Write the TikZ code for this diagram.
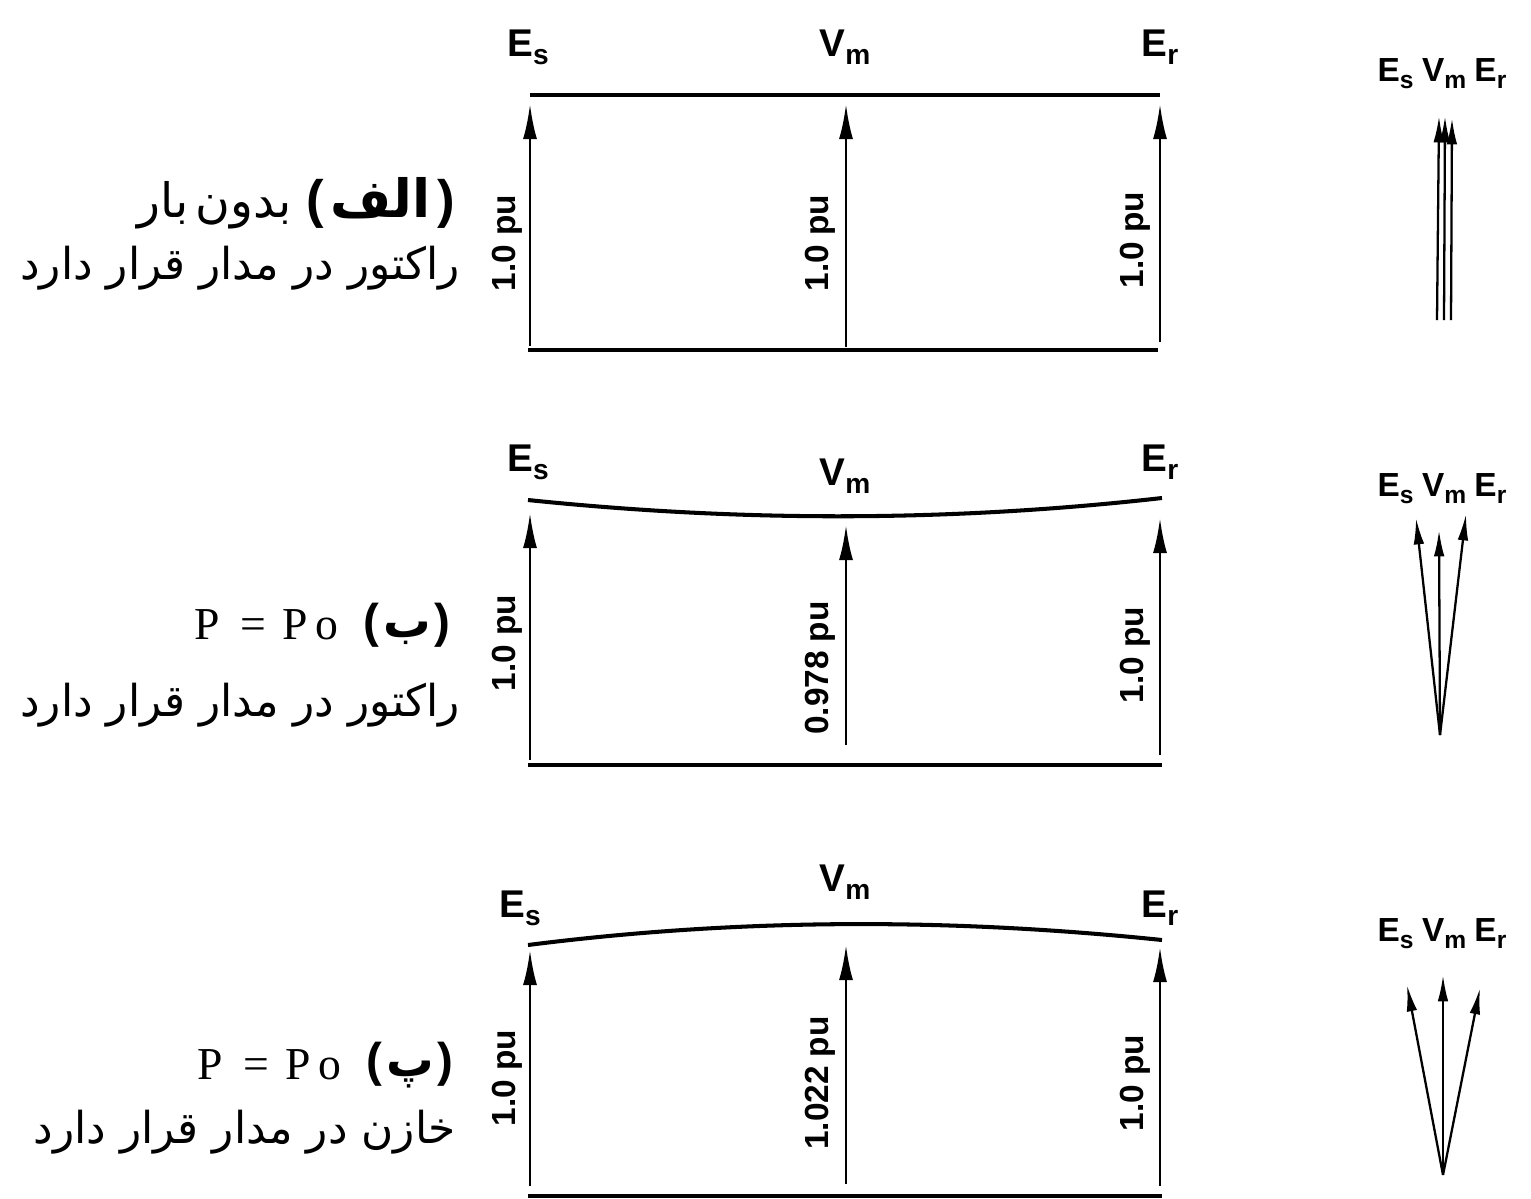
\documentclass[tikz,border=0pt]{standalone}
\usepackage{fontspec}
\setmainfont{Liberation Sans}
\newfontfamily\arabicfont[Script=Arabic]{DejaVu Sans}
\newfontfamily\serifP{Liberation Serif}
\TeXXeTstate=1
\usetikzlibrary{arrows.meta}
\newcommand\subl[2]{#1\raisebox{-0.4ex}{\fontsize{16}{16}\selectfont #2}}
\newcommand\psub[2]{#1\raisebox{-0.4ex}{\fontsize{14}{14}\selectfont #2}}
\begin{document}
\begin{tikzpicture}[x=0.02cm,y=-0.02cm,
  bus/.style={line width=2.3pt},
  vec/.style={line width=1.6pt,-{Latex[length=20pt,width=8pt]}},
  pvec/.style={line width=1.3pt,-{Latex[length=15pt,width=6pt]}},
  vlab/.style={font=\fontsize{22}{22}\selectfont\bfseries,inner sep=0pt},
  plab/.style={font=\fontsize{19}{19}\selectfont\bfseries,inner sep=0pt},
  pu/.style={font=\fontsize{19}{19}\selectfont\bfseries,rotate=90,inner sep=0pt},
  fa/.style={font=\fontsize{25}{25}\selectfont\arabicfont,inner sep=0pt,anchor=east},
  fab/.style={font=\fontsize{27}{27}\selectfont\bfseries,inner sep=0pt,anchor=east},
  eq/.style={font=\fontsize{26}{26}\selectfont\serifP,inner sep=0pt,anchor=east}]
\useasboundingbox (0,0) rectangle (1531,1198);

% ---------------- Panel A ----------------
\coordinate (a-tl) at (530,95);  \coordinate (a-tr) at (1160,95);
\coordinate (a-bl) at (528,350); \coordinate (a-br) at (1158,350);
\draw[bus] (a-tl) -- (a-tr);
\draw[bus] (a-bl) -- (a-br);
\coordinate (a-s0) at (530,346); \coordinate (a-s1) at (530,104);
\coordinate (a-m0) at (846,347); \coordinate (a-m1) at (846,104);
\coordinate (a-r0) at (1160,342);\coordinate (a-r1) at (1160,104);
\draw[vec] (a-s0) -- (a-s1);
\draw[vec] (a-m0) -- (a-m1);
\draw[vec] (a-r0) -- (a-r1);
\node[vlab] (a-Es) at (528,47) {\subl{E}{s}};
\node[vlab] (a-Vm) at (845,47) {\subl{V}{m}};
\node[vlab] (a-Er) at (1160,47) {\subl{E}{r}};
\node[pu] (a-p1) at (507,243) {1.0 pu};
\node[pu] (a-p2) at (820,243) {1.0 pu};
\node[pu] (a-p3) at (1135,240) {1.0 pu};
\node[fab,font=\fontsize{30}{30}\selectfont\bfseries] (a-t1b) at (455,203) {(\hspace{0.12em}{\arabicfont الف}\hspace{0.12em})};
\node[fa,font=\fontsize{27}{27}\selectfont\arabicfont,anchor=base east] (a-t1) at ([xshift=-8pt]a-t1b.base west) {\beginR بدون\hspace{0.15em}بار\endR};
\node[fa] (a-t2) at (460,268) {\beginR راکتور در مدار قرار دارد\endR};
% phasors A
\coordinate (a-o1) at (1437,320); \coordinate (a-e1) at (1439,116);
\coordinate (a-o2) at (1444,320); \coordinate (a-e2) at (1445,116);
\coordinate (a-o3) at (1451,320); \coordinate (a-e3) at (1452,118);
\draw[pvec] (a-o1) -- (a-e1);
\draw[pvec] (a-o2) -- (a-e2);
\draw[pvec] (a-o3) -- (a-e3);
\node[plab] (a-ph) at (1442,74) {\psub{E}{s}\hspace{0.25em}\psub{V}{m}\hspace{0.25em}\psub{E}{r}};

% ---------------- Panel B ----------------
\coordinate (b-tl) at (528,500); \coordinate (b-tr) at (1162,498);
\coordinate (b-bl) at (528,765); \coordinate (b-br) at (1162,765);
\draw[bus] (b-tl) .. controls (740,522) and (950,522) .. (b-tr);
\draw[bus] (b-bl) -- (b-br);
\coordinate (b-s0) at (530,760); \coordinate (b-s1) at (530,513);
\coordinate (b-m0) at (846,745); \coordinate (b-m1) at (846,525);
\coordinate (b-r0) at (1160,755);\coordinate (b-r1) at (1160,518);
\draw[vec] (b-s0) -- (b-s1);
\draw[vec] (b-m0) -- (b-m1);
\draw[vec] (b-r0) -- (b-r1);
\node[vlab] (b-Es) at (528,462) {\subl{E}{s}};
\node[vlab] (b-Vm) at (845,476) {\subl{V}{m}};
\node[vlab] (b-Er) at (1160,462) {\subl{E}{r}};
\node[pu] (b-p1) at (507,643) {1.0 pu};
\node[pu] (b-p2) at (820,668) {0.978 pu};
\node[pu] (b-p3) at (1135,655) {1.0 pu};
\node[fab] (b-t1b) at (451,625) {(\hspace{0.08em}{\arabicfont ب}\hspace{0.08em})};
\node[eq] (b-t1) at ([xshift=-14pt]b-t1b.west) {P\hspace{0.45em}=\hspace{0.35em}P\,o};
\node[fa] (b-t2) at (460,705) {\beginR راکتور در مدار قرار دارد\endR};
% phasors B
\coordinate (b-o) at (1440,735);
\coordinate (b-e1) at (1416,518);
\coordinate (b-e2) at (1439,530);
\coordinate (b-e3) at (1466,514);
\draw[pvec] (b-o) -- (b-e1);
\draw[pvec] (b-o) -- (b-e2);
\draw[pvec] (b-o) -- (b-e3);
\node[plab] (b-ph) at (1442,489) {\psub{E}{s}\hspace{0.25em}\psub{V}{m}\hspace{0.25em}\psub{E}{r}};

% ---------------- Panel C ----------------
\coordinate (c-tl) at (528,945); \coordinate (c-tr) at (1162,940);
\coordinate (c-bl) at (528,1196); \coordinate (c-br) at (1162,1196);
\draw[bus] (c-tl) .. controls (740,918) and (950,918) .. (c-tr);
\draw[bus] (c-bl) -- (c-br);
\coordinate (c-s0) at (530,1186); \coordinate (c-s1) at (530,950);
\coordinate (c-m0) at (846,1184); \coordinate (c-m1) at (846,945);
\coordinate (c-r0) at (1160,1186);\coordinate (c-r1) at (1160,947);
\draw[vec] (c-s0) -- (c-s1);
\draw[vec] (c-m0) -- (c-m1);
\draw[vec] (c-r0) -- (c-r1);
\node[vlab] (c-Es) at (520,908) {\subl{E}{s}};
\node[vlab] (c-Vm) at (845,882) {\subl{V}{m}};
\node[vlab] (c-Er) at (1160,908) {\subl{E}{r}};
\node[pu] (c-p1) at (507,1078) {1.0 pu};
\node[pu] (c-p2) at (820,1083) {1.022 pu};
\node[pu] (c-p3) at (1135,1083) {1.0 pu};
\node[fab] (c-t1b) at (454,1065) {(\hspace{0.08em}{\arabicfont پ}\hspace{0.08em})};
\node[eq] (c-t1) at ([xshift=-14pt]c-t1b.west) {P\hspace{0.45em}=\hspace{0.35em}P\,o};
\node[fa] (c-t2) at (456,1132) {\beginR خازن در مدار قرار دارد\endR};
% phasors C
\coordinate (c-o) at (1443,1175);
\coordinate (c-e1) at (1407,985);
\coordinate (c-e2) at (1443,975);
\coordinate (c-e3) at (1480,988);
\draw[pvec] (c-o) -- (c-e1);
\draw[pvec] (c-o) -- (c-e2);
\draw[pvec] (c-o) -- (c-e3);
\node[plab] (c-ph) at (1442,934) {\psub{E}{s}\hspace{0.25em}\psub{V}{m}\hspace{0.25em}\psub{E}{r}};
\end{tikzpicture}
\end{document}
